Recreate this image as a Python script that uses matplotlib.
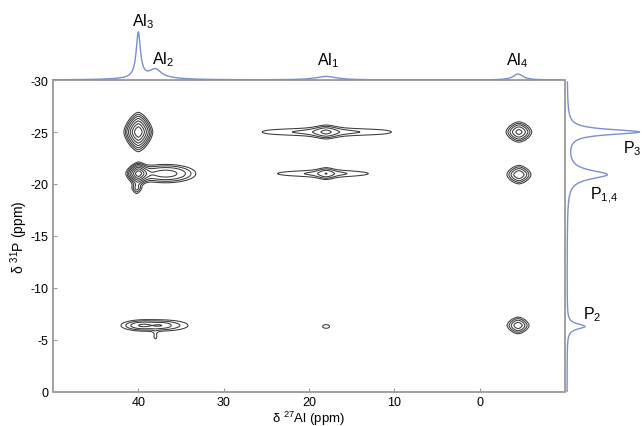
import numpy as np
import matplotlib
matplotlib.use("Agg")
import matplotlib.pyplot as plt

plt.rcParams['font.family'] = ['Liberation Sans', 'DejaVu Sans']
plt.rcParams['mathtext.default'] = 'regular'
plt.rcParams['axes.unicode_minus'] = False

# ---- data -------------------------------------------------------------
# 2D correlation peaks (ppm): Al shift, P shift, widths, shape exponents, amplitude
pk_al   = [40.0, 40.0, 36.8, 40.2, 17.9, 18.0, 18.0, 18.5, 18.0, 18.0, -4.6, -4.6, -4.5, 38.0, 39.6, 37.3, 38.0, 18.0]
pk_p    = [-25.0, -21.0, -21.0, -19.6, -25.0, -25.0, -25.0, -21.0, -21.0, -21.0, -25.0, -20.9, -6.4, -6.4, -6.4, -6.4, -5.3, -6.3]
pk_wal  = [0.86, 0.70, 3.0, 0.55, 9.5, 2.5, 1.2, 7.8, 2.2, 0.9, 1.05, 1.05, 1.0, 4.2, 1.5, 1.0, 0.4, 0.7]
pk_wp   = [0.96, 0.55, 0.75, 0.55, 0.5, 0.6, 0.6, 0.45, 0.55, 0.55, 0.68, 0.66, 0.62, 0.6, 0.35, 0.3, 0.55, 0.3]
pk_qal  = [1.5, 1.5, 2.0, 1.5, 6.0, 1.0, 2.0, 4.0, 1.0, 2.0, 1.6, 1.6, 1.6, 2.5, 2.0, 2.0, 1.5, 2.0]
pk_qp   = [1.5, 1.5, 2.0, 1.5, 2.0, 1.3, 2.0, 2.0, 1.3, 2.0, 1.6, 1.6, 1.6, 2.0, 2.0, 2.0, 1.5, 2.0]
pk_amp  = [1.6, 1.4, 0.4, 0.25, 0.12, 0.15, 0.12, 0.11, 0.13, 0.1, 0.6, 0.5, 0.45, 0.22, 0.15, 0.1, 0.12, 0.14]
levels = [0.1, 0.15, 0.22, 0.33, 0.5, 0.75, 1.1]

# 27Al projection (top): position ppm, height, half width
al_pos = [40.0, 38.0, 38.5, 18.0, -4.5]
al_h   = [45.0, 8.0, 2.5, 3.5, 6.0]
al_w   = [0.3, 0.8, 3.0, 1.5, 0.7]
# 31P projection (right)
p_pos = [-25.0, -20.9, -6.3]
p_h   = [72.0, 40.0, 18.0]
p_w   = [0.3, 0.5, 0.3]

xticks = [40, 30, 20, 10, 0]
yticks = [0, -5, -10, -15, -20, -25, -30]
ytick_labels = ['0', '-5', '-10', '-15', '-20', '-25', '-30']

# ---- figure -----------------------------------------------------------
W, H = 642, 427
fig = plt.figure(figsize=(W / 100, H / 100), dpi=100)
L, R, T, B = 53, 565, 81, 393
ax = fig.add_axes([L / W, (H - B) / H, (R - L) / W, (B - T) / H])
axt = fig.add_axes([L / W, (H - T) / H, (R - L) / W, 52 / H])
axr = fig.add_axes([(R + 1) / W, (H - B) / H, (W - R - 1) / W, (B - T) / H])

xg = np.linspace(50, -10, 900)
yg = np.linspace(0, -30, 600)
X, Y = np.meshgrid(xg, yg)
Z = np.zeros_like(X)
for x0, y0, wx, wy, qx, qy, a in zip(pk_al, pk_p, pk_wal, pk_wp, pk_qal, pk_qp, pk_amp):
    Z += a * np.exp(-((np.abs(X - x0) / wx) ** qx + (np.abs(Y - y0) / wy) ** qy))

ax.contour(X, Y, Z, levels=levels, colors='#3a3a3a', linewidths=0.75)
ax.set_xlim(50, -10)
ax.set_ylim(0, -30)
ax.set_xticks(xticks)
ax.set_xticklabels([str(t) for t in xticks])
ax.set_yticks(yticks)
ax.set_yticklabels(ytick_labels)
ax.tick_params(axis='both', direction='in', length=3, color='#999999', labelsize=9)
ax.tick_params(axis='x', pad=3)
ax.tick_params(axis='y', pad=3)
for s in ax.spines.values():
    s.set_color('#a0a0a0')
    s.set_linewidth(1.4)
fig.text((L + R) / 2 / W, (H - 423) / H, r'δ $^{27}$Al (ppm)', ha='center', va='baseline', fontsize=9.5)
fig.text(19 / W, (H - (T + B) / 2) / H, r'δ $^{31}$P (ppm)', ha='center', va='center',
         rotation=90, fontsize=10)

line_c = '#7b8fd0'
# top projection
xs = np.linspace(50, -9.7, 1500)
top = np.zeros_like(xs)
for p, h, w in zip(al_pos, al_h, al_w):
    top += h * w ** 2 / ((xs - p) ** 2 + w ** 2)
axt.plot(xs, top, color=line_c, lw=1.0)
axt.set_xlim(50, -10)
axt.set_ylim(0, 52)
axt.axis('off')
axt.patch.set_alpha(0)

# right projection
ys = np.linspace(0, -29.8, 1500)
rp = np.zeros_like(ys)
for p, h, w in zip(p_pos, p_h, p_w):
    rp += h * w ** 2 / ((ys - p) ** 2 + w ** 2)
axr.plot(rp + 1, ys, color=line_c, lw=1.0)
axr.set_xlim(0, W - R - 1)
axr.set_ylim(0, -30)
axr.axis('off')
axr.patch.set_alpha(0)

# peak labels
lab_fs = 11.5
axt.text(39.5, 59, r'Al$_3$', ha='center', va='center', fontsize=lab_fs, clip_on=False)
axt.text(37.1, 21, r'Al$_2$', ha='center', va='center', fontsize=lab_fs, clip_on=False)
axt.text(17.8, 20, r'Al$_1$', ha='center', va='center', fontsize=lab_fs, clip_on=False)
axt.text(-4.4, 20, r'Al$_4$', ha='center', va='center', fontsize=lab_fs, clip_on=False)
axr.text(57, -23.5, r'P$_3$', ha='left', va='center', fontsize=lab_fs, clip_on=False)
axr.text(24, -19.0, r'P$_{1{,}4}$', ha='left', va='center', fontsize=lab_fs, clip_on=False)
axr.text(17, -7.5, r'P$_2$', ha='left', va='center', fontsize=lab_fs, clip_on=False)

fig.savefig('out.png', dpi=100)
